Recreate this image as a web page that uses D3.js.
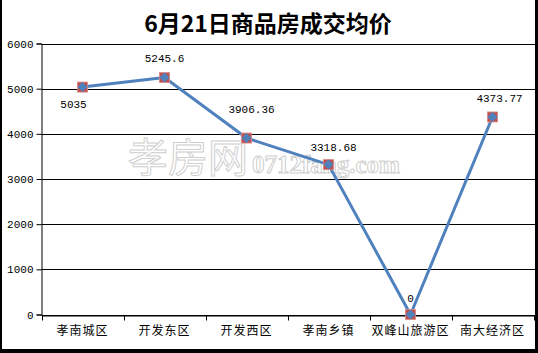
<!DOCTYPE html>
<html>
<head>
<meta charset="utf-8">
<script src="https://cdn.jsdelivr.net/npm/d3@7"></script>
<style>
  body { margin: 0; background: #fff; }
  svg { display: block; }
</style>
</head>
<body>
<script>
// data
var categories = ["孝南城区", "开发东区", "开发西区", "孝南乡镇", "双峰山旅游区", "南大经济区"];
var prices = [5035, 5245.6, 3906.36, 3318.68, 0, 4373.77];
var priceLabels = ["5035", "5245.6", "3906.36", "3318.68", "0", "4373.77"];
var yTicks = [0, 1000, 2000, 3000, 4000, 5000, 6000];

// label nudges (layout only)
var labelDx = [-9, 0, 5, 5, 0, 7];
var labelDy = [17, -19, -29, -17, -16, -19];

var svgWidth = 538;
var svgHeight = 353;

var svg = d3.select("body")
  .append("svg")
    .attr("width", svgWidth)
    .attr("height", svgHeight);

// frame
svg.append("rect").attr("x", 0).attr("y", 0).attr("width", 538).attr("height", 353).attr("fill", "#fff");
svg.append("rect").attr("x", 0).attr("y", 0).attr("width", 2).attr("height", 353).attr("fill", "#000");
svg.append("rect").attr("x", 535).attr("y", 0).attr("width", 3).attr("height", 353).attr("fill", "#000");
svg.append("rect").attr("x", 0).attr("y", 349).attr("width", 538).attr("height", 4).attr("fill", "#000");

// title
svg.append("text")
  .attr("x", 268)
  .attr("y", 32)
  .attr("text-anchor", "middle")
  .style("font-family", "'Noto Sans CJK SC', sans-serif")
  .style("font-weight", "bold")
  .style("font-size", "23px")
  .text("6月21日商品房成交均价");

var x = d3.scaleBand()
  .domain(categories)
  .range([41.5, 533.5]);

var y = d3.scaleLinear()
  .domain([0, 6000])
  .range([314.5, 43.5]);

// watermark
var wm = svg.append("g").attr("fill", "#fff").attr("stroke", "#cfcfcf").attr("stroke-width", 1);
wm.append("text")
  .attr("x", 128).attr("y", 172)
  .style("font-family", "'Noto Sans CJK SC', sans-serif")
  .style("font-size", "40px")
  .text("孝房网");
wm.append("text")
  .attr("x", 252).attr("y", 173)
  .style("font-family", "'Liberation Serif', serif")
  .style("font-size", "25px")
  .style("font-weight", "bold")
  .text("0712fang.com");

// gridlines
svg.append("g")
  .selectAll("line")
  .data(yTicks)
  .enter()
  .append("line")
    .attr("x1", 41.5)
    .attr("x2", 535)
    .attr("y1", d => Math.round(y(d)) + 0.5)
    .attr("y2", d => Math.round(y(d)) + 0.5)
    .attr("stroke", "#000")
    .attr("stroke-width", 1);

// y axis
var yAxis = svg.append("g")
  .attr("transform", "translate(41.5,0)")
  .call(d3.axisLeft(y).tickValues(yTicks).tickSize(5).tickPadding(3).tickFormat(d3.format("d")));
yAxis.select(".domain").attr("stroke", "#000");
yAxis.selectAll("line").attr("stroke", "#000");
yAxis.selectAll("text")
  .style("font-family", "'Liberation Mono', monospace")
  .style("font-size", "11px")
  .attr("fill", "#000");

// x axis
var xAxis = svg.append("g")
  .attr("transform", "translate(0," + (Math.round(y(0)) + 0.5) + ")")
  .call(d3.axisBottom(x).tickSize(0).tickPadding(11));
xAxis.select(".domain").attr("stroke", "#000");
xAxis.selectAll("text")
  .style("font-family", "'Noto Sans CJK SC', sans-serif")
  .style("font-size", "12px")
  .style("letter-spacing", "1px")
  .attr("fill", "#000");
var bounds = [41.5].concat(categories.map(c => x(c) + x.bandwidth()));
xAxis.selectAll(".sep")
  .data(bounds)
  .enter()
  .append("line")
    .attr("x1", d => Math.round(d) + 0.5)
    .attr("x2", d => Math.round(d) + 0.5)
    .attr("y1", 0)
    .attr("y2", 5)
    .attr("stroke", "#000");

var cx = function(d, i) { return x(categories[i]) + x.bandwidth() / 2; };

// line
var line = d3.line()
  .x((d, i) => cx(d, i))
  .y(d => y(d));

svg.append("path")
  .datum(prices)
  .attr("d", line)
  .attr("fill", "none")
  .attr("stroke", "#4F81BD")
  .attr("stroke-width", 3)
  .attr("stroke-linejoin", "round");

// markers
var marks = svg.append("g")
  .selectAll("g")
  .data(prices)
  .enter()
  .append("g")
    .attr("transform", (d, i) => "translate(" + cx(d, i) + "," + y(d) + ")");

marks.append("rect")
  .attr("x", -5).attr("y", -5)
  .attr("width", 10).attr("height", 10)
  .attr("fill", "#C0504D")
  .attr("stroke", "#D88A88")
  .attr("stroke-width", 0.8);

marks.append("path")
  .attr("d", "M0,-5L5,0L0,5L-5,0Z")
  .attr("fill", "#4F81BD");

// value labels
svg.append("g")
  .selectAll("text")
  .data(prices)
  .enter()
  .append("text")
    .attr("x", (d, i) => cx(d, i) + labelDx[i])
    .attr("y", (d, i) => y(d) + labelDy[i])
    .attr("dy", "0.35em")
    .attr("text-anchor", "middle")
    .style("font-family", "'Liberation Mono', monospace")
    .style("font-size", "11px")
    .text((d, i) => priceLabels[i]);
</script>
</body>
</html>
